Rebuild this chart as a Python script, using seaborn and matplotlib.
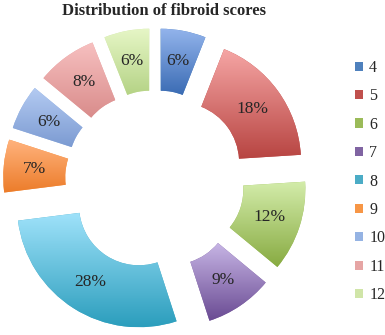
import numpy as np
import matplotlib
matplotlib.use("Agg")
import matplotlib.pyplot as plt
import seaborn as sns
from matplotlib.colors import LinearSegmentedColormap
from matplotlib.patches import Patch

sns.set_style("white")
plt.rcParams['font.family'] = ['Liberation Serif', 'DejaVu Serif']

# data
scores = ['4', '5', '6', '7', '8', '9', '10', '11', '12']
percent = [6, 18, 12, 9, 28, 7, 6, 8, 6]

# gradient colours: light (top) -> dark (bottom)
top_colors = ['#93b4ec', '#f5a5a4', '#d3ecaa', '#c6b4e4', '#9fe2fa', '#ffb27c', '#b4cbf2', '#f7c0c0', '#e6f6c6']
bottom_colors = ['#3b6cb4', '#b84542', '#88ab42', '#6a4b93', '#2c9ebd', '#ec7c2a', '#7c9bd2', '#d98c8b', '#b5d386']
mid_colors = ['#4f81bd', '#c0504d', '#9bbb59', '#8064a2', '#4bacc6', '#f79646', '#95b3e3', '#e6a5a4', '#d0e5a8']

fig = plt.figure(figsize=(3.85, 3.35), dpi=100)
ax = fig.add_axes([0.0, 0.0, 0.805, 0.925])

wedges, texts = ax.pie(
    percent, startangle=90, counterclock=False, radius=1.18,
    explode=[0.29] * len(percent),
    wedgeprops=dict(width=0.6, edgecolor='none'),
    colors=mid_colors,
)

for i, w in enumerate(wedges):
    bb = w.get_path().get_extents()
    cmap = LinearSegmentedColormap.from_list('g%d' % i, [bottom_colors[i], top_colors[i]])
    grad = np.linspace(0, 1, 64).reshape(-1, 1)
    im = ax.imshow(grad, cmap=cmap, origin='lower', aspect='auto',
                   extent=[bb.x0, bb.x1, bb.y0, bb.y1], zorder=2)
    im.set_clip_path(w)
    # percentage label in the middle of the ring
    ang = np.deg2rad((w.theta1 + w.theta2) / 2)
    r = w.r - w.width / 2
    cx, cy = w.center
    ax.text(cx + r * np.cos(ang), cy + r * np.sin(ang), '%d%%' % percent[i],
            ha='center', va='center', fontsize=12.5, zorder=3)

ax.set_xlim(-1.5, 1.5)
ax.set_ylim(-1.5, 1.5)
ax.set_aspect('equal')
ax.axis('off')

fig.text(0.427, 0.968, 'Distribution of fibroid scores', ha='center', va='center',
         fontsize=12, fontweight='bold')

handles = [Patch(facecolor=mid_colors[i], edgecolor='none') for i in range(len(scores))]
fig.legend(handles, scores, loc='center left', bbox_to_anchor=(0.905, 0.458),
           frameon=False, fontsize=11.5, handlelength=0.5, handleheight=0.5,
           handletextpad=0.4, labelspacing=0.78, borderaxespad=0)

fig.savefig('out.png', dpi=100)
